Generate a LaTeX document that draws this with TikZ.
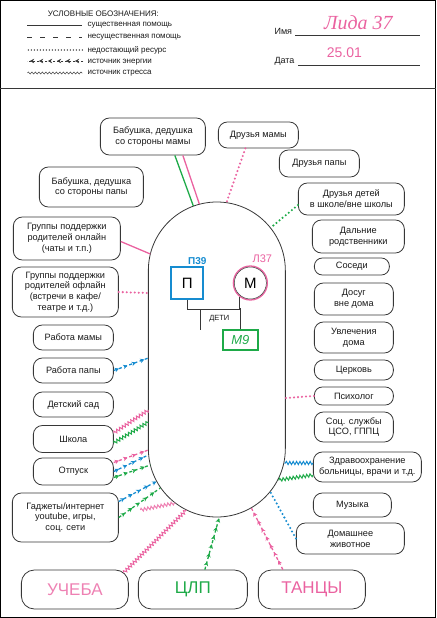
\documentclass[tikz,border=0pt]{standalone}
\usepackage{fontspec}
\setmainfont{Liberation Sans}
\newfontfamily\handfont{Liberation Serif}
\usetikzlibrary{decorations.pathmorphing,decorations.markings,arrows.meta}
\definecolor{pinkk}{RGB}{234,98,160}
\definecolor{greenk}{RGB}{30,170,72}
\definecolor{bluek}{RGB}{22,140,208}
\definecolor{inkk}{RGB}{55,55,55}

\begin{document}
\begin{tikzpicture}[x=1pt,y=-1pt,
  box/.style={draw=inkk,line width=0.8pt,rounded corners=9pt,align=center,inner sep=1pt,text=black!90,font=\fontsize{9.2}{10.8}\selectfont},
  bigbox/.style={draw=inkk,line width=0.8pt,rounded corners=13pt,minimum width=107pt,minimum height=39pt,font=\fontsize{17}{17}\selectfont},
  strong/.style={line width=1.3pt},
  lack/.style={line width=2.3pt,line cap=round,dash pattern=on 0pt off 4pt},
  energy/.style={line width=1.3pt,dash pattern=on 3pt off 2.5pt,postaction={decorate},
    decoration={markings,mark=between positions 0.15 and 1 step 9pt with {\arrow{Stealth[length=4.2pt,width=4.5pt]}}}},
  stress/.style={line width=1pt,decorate,decoration={snake,amplitude=1.6pt,segment length=3.4pt}},
  legend/.style={anchor=west,inner sep=0pt,text=black!90,font=\fontsize{8}{9}\selectfont}]

  \draw[line width=1pt] (0.5,0.5) rectangle (435.5,617.5);
  \draw[inkk,line width=0.7pt] (0,88) -- (436,88);

  \node[legend,anchor=center] (lgT) at (103,14) {УСЛОВНЫЕ ОБОЗНАЧЕНИЯ:};
  \node[legend] (lg1) at (87,25) {существенная помощь};
  \node[legend] (lg2) at (87,37) {несущественная помощь};
  \node[legend] (lg3) at (87,50) {недостающий ресурс};
  \node[legend] (lg4) at (87,62) {источник энергии};
  \node[legend] (lg5) at (87,73) {источник стресса};
  \draw[inkk,line width=0.6pt] (27,25) -- (82,25);
  \draw[inkk,line width=0.6pt,dash pattern=on 5pt off 8pt] (27,37) -- (82,37);
  \draw[inkk,lack,line width=1.6pt,dash pattern=on 0pt off 3pt] (28,50) -- (82,50);
  \draw[inkk,energy,line width=0.6pt,dash pattern=on 2pt off 2pt] (83,61) -- (27,61);
  \draw[inkk,stress,line width=0.5pt,decoration={snake,amplitude=1pt,segment length=3.5pt}] (27,73) -- (82,73);

  \node[legend,font=\fontsize{9}{10}\selectfont] (nm) at (274,31) {Имя};
  \node[legend,font=\fontsize{9}{10}\selectfont] (dt) at (274,61) {Дата};
  \draw[inkk,line width=0.5pt] (295,35) -- (420,35);
  \draw[inkk,line width=0.5pt] (298,65) -- (420,65);
  \node[pinkk,font=\handfont\itshape\fontsize{20}{20}\selectfont] (nmV) at (358,23) {Лида 37};
  \node[pinkk,font=\fontsize{14}{14}\selectfont] (dtV) at (344,53) {25.01};

  \draw[inkk,line width=0.8pt,rounded corners=68.5pt] (148,202) rectangle (285,517);

  \node[draw=bluek,line width=1.8pt,minimum size=32pt,inner sep=0pt,font=\fontsize{15}{15}\selectfont] (P) at (187,283) {П};
  \node[bluek,font=\bfseries\fontsize{10}{10}\selectfont] (Pa) at (197,261) {П39};
  \node[circle,draw=pinkk,line width=1.3pt,minimum size=34pt,inner sep=0pt,font=\fontsize{15}{15}\selectfont] (M) at (250,283) {М};
  \draw[inkk,line width=0.5pt] (M.center) circle[radius=16pt];
  \node[pinkk,font=\fontsize{11}{11}\selectfont] (Ma) at (262,259) {Л37};
  \node[draw=greenk,line width=1.3pt,minimum width=35pt,minimum height=20pt,inner sep=0pt,text=greenk,font=\itshape\fontsize{13}{13}\selectfont] (C) at (240,340) {М9};
  \node[text=black!90,font=\fontsize{7.5}{7.5}\selectfont] (kids) at (219,319) {ДЕТИ};
  \draw[inkk,line width=0.6pt] (P.south) -- ++(0,9) -| (M.232);
  \draw[inkk,line width=0.6pt] (C.north) -- ++(0,-21);
  \draw[inkk,line width=0.6pt] (200,309) -- (200,330);

  \node[box,minimum width=105pt,minimum height=37pt] (babM) at (152.5,136.5) {Бабушка, дедушка\\со стороны мамы};
  \node[box,minimum width=104pt,minimum height=40pt] (babP) at (91,187) {Бабушка, дедушка\\со стороны папы};
  \node[box,minimum width=107pt,minimum height=43pt] (grOn) at (66.5,238.5) {Группы поддержки\\родителей онлайн\\(чаты и т.п.)};
  \node[box,minimum width=106pt,minimum height=50pt] (grOff) at (65,292) {Группы поддержки\\родителей офлайн\\(встречи в кафе/\\театре и т.д.)};
  \node[box,minimum width=80pt,minimum height=25pt] (rabM) at (73,337.5) {Работа мамы};
  \node[box,minimum width=80pt,minimum height=25pt] (rabP) at (73,370.5) {Работа папы};
  \node[box,minimum width=80pt,minimum height=25pt] (sad) at (73,404.5) {Детский сад};
  \node[box,minimum width=80pt,minimum height=27pt] (shk) at (73,439) {Школа};
  \node[box,minimum width=80pt,minimum height=27pt] (otp) at (73,471.5) {Отпуск};
  \node[box,minimum width=106pt,minimum height=49pt] (gadg) at (65,517.5) {Гаджеты/интернет\\youtube, игры,\\соц. сети};

  \node[bigbox,text=pinkk!80] (uch) at (74.5,589.5) {УЧЕБА};
  \node[bigbox,text=greenk,minimum width=109pt] (clp) at (192.5,589.5) {ЦЛП};
  \node[bigbox,text=pinkk] (tan) at (311.5,589.5) {ТАНЦЫ};

  \node[box,minimum width=80pt,minimum height=26pt] (drM) at (258,135) {Друзья мамы};
  \node[box,minimum width=80pt,minimum height=27pt] (drP) at (319,163.5) {Друзья папы};
  \node[box,minimum width=106pt,minimum height=32pt] (drD) at (351,199) {Друзья детей\\в школе/вне школы};
  \node[box,minimum width=92pt,minimum height=33pt] (dal) at (358,236.5) {Дальние\\родственники};
  \node[box,minimum width=75pt,minimum height=17pt,rounded corners=8pt] (sos) at (351.5,266.5) {Соседи};
  \node[box,minimum width=79pt,minimum height=32pt] (dos) at (353.5,299) {Досуг\\вне дома};
  \node[box,minimum width=79pt,minimum height=31pt] (uvl) at (353.5,337.5) {Увлечения\\дома};
  \node[box,minimum width=79pt,minimum height=20pt] (cer) at (353.5,370) {Церковь};
  \node[box,minimum width=79pt,minimum height=18pt,rounded corners=8pt] (psy) at (353.5,396) {Психолог};
  \node[box,minimum width=79pt,minimum height=30pt] (soc) at (353.5,427) {Соц. службы\\ЦСО, ГППЦ};
  \node[box,minimum width=108pt,minimum height=30pt] (zdr) at (367,467) {Здравоохранение\\больницы, врачи и т.д.};
  \node[box,minimum width=78pt,minimum height=24pt] (muz) at (352,505) {Музыка};
  \node[box,minimum width=108pt,minimum height=31pt] (dom) at (350,538.5) {Домашнее\\животное};

  \coordinate (k1) at (193,206);
  \coordinate (k2) at (199,204);
  \coordinate (k3) at (226,203);
  \coordinate (k4) at (270,228);
  \coordinate (k5) at (150,254);
  \coordinate (k6) at (148,293);
  \coordinate (k7) at (148,358);
  \coordinate (k8) at (148,410);
  \coordinate (k9) at (148,422);
  \coordinate (k10) at (148,450);
  \coordinate (k11) at (148,455);
  \coordinate (k12) at (150,465);
  \coordinate (k13) at (157,481);
  \coordinate (k14) at (160,488);
  \coordinate (k15) at (175,503);
  \coordinate (k16) at (186,510);
  \coordinate (k17) at (219,517);
  \coordinate (k18) at (251,508);
  \coordinate (k19) at (270,492);
  \coordinate (k20) at (284,463);
  \coordinate (k21) at (278,480);
  \coordinate (k22) at (285,398);
  \coordinate (g3) at (140,510);

  \draw[strong,greenk] ([xshift=22pt]babM.south) -- (k1);
  \draw[strong,pinkk] ([xshift=30pt]babM.south) -- (k2);
  \draw[lack,pinkk] ([xshift=-13pt]drM.south) -- (k3);
  \draw[lack,greenk] ([yshift=-6pt]drD.west) -- (k4);
  \draw[strong,pinkk] ([yshift=-3pt]grOn.east) -- (k5);
  \draw[lack,pinkk] (grOff.east) -- (k6);
  \draw[energy,bluek] (rabP.east) -- (k7);
  \draw[stress,pinkk] ([yshift=6pt]shk.east) -- (k8);
  \draw[stress,greenk] ([yshift=-4pt]shk.east) -- (k9);
  \draw[energy,pinkk] ([yshift=9pt]otp.east) -- (k10);
  \draw[energy,bluek] (otp.east) -- (k11);
  \draw[energy,greenk] ([yshift=-6pt]otp.east) -- (k12);
  \draw[energy,bluek] ([yshift=16pt]gadg.east) -- (k13);
  \draw[energy,greenk] (gadg.east) -- (k14);
  \draw[stress,pinkk!80] (g3) -- (k15);
  \draw[stress,pinkk] ([xshift=-5pt,yshift=-3pt]uch.north east) -- (k16);
  \draw[energy,greenk] ([xshift=12pt]clp.north) -- (k17);
  \draw[energy,pinkk] ([xshift=-29pt]tan.north) -- (k18);
  \draw[lack,bluek] (dom.west) -- (k19);
  \draw[stress,bluek] ([yshift=4pt]zdr.west) -- (k20);
  \draw[stress,greenk] ([yshift=-8pt]zdr.west) -- (k21);
  \draw[lack,pinkk] (psy.west) -- (k22);
\end{tikzpicture}
\end{document}
